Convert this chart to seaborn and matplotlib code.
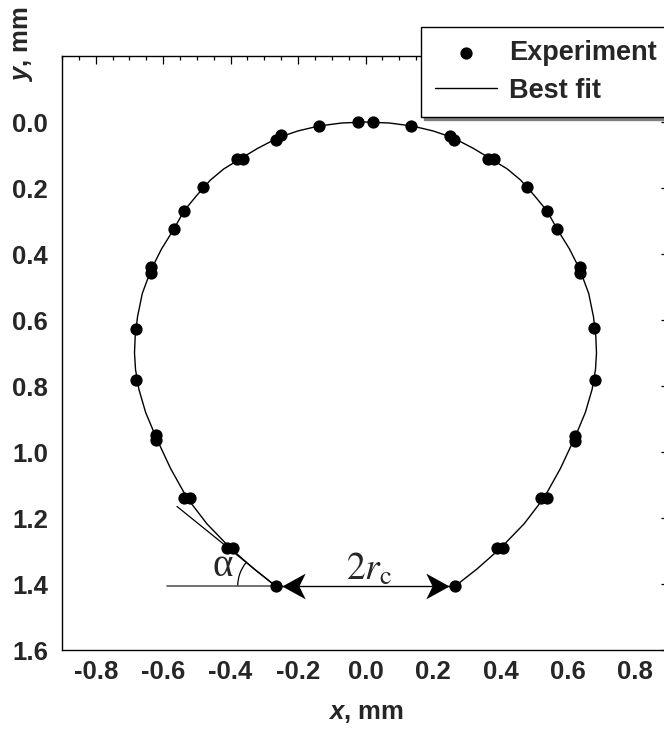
import numpy as np
import matplotlib
matplotlib.use("Agg")
import matplotlib.pyplot as plt
from matplotlib.patches import Arc
from matplotlib.path import Path
from matplotlib.ticker import MultipleLocator, FormatStrFormatter
import seaborn as sns

# ---------------- data ----------------
exp_x = [-0.023, 0.021, -0.138, -0.251, -0.266, -0.381, -0.363, -0.482, -0.538,
         -0.568, -0.636, -0.636, -0.681, -0.681, -0.621, -0.621, -0.538, -0.521,
         -0.411, -0.393, -0.266,
         0.135, 0.250, 0.262, 0.363, 0.381, 0.478, 0.538, 0.567, 0.636, 0.636,
         0.677, 0.680, 0.621, 0.621, 0.520, 0.538, 0.390, 0.407, 0.265]
exp_y = [0.000, 0.000, 0.012, 0.039, 0.054, 0.112, 0.112, 0.197, 0.269,
         0.324, 0.439, 0.457, 0.626, 0.781, 0.947, 0.965, 1.138, 1.138,
         1.292, 1.292, 1.407,
         0.012, 0.042, 0.054, 0.112, 0.112, 0.197, 0.269, 0.324, 0.439, 0.457,
         0.623, 0.781, 0.950, 0.968, 1.138, 1.138, 1.292, 1.292, 1.407]

fit_x = [-0.265, -0.330, -0.400, -0.470, -0.530, -0.578, -0.621, -0.652, -0.672,
         -0.682, -0.685, -0.683, -0.676, -0.662, -0.636, -0.605, -0.568, -0.538,
         -0.500, -0.460, -0.420, -0.372, -0.320, -0.258, -0.200, -0.138, -0.070,
         0.000,
         0.070, 0.138, 0.200, 0.258, 0.320, 0.372, 0.420, 0.460, 0.500, 0.538,
         0.568, 0.605, 0.636, 0.662, 0.676, 0.683, 0.685, 0.682, 0.672, 0.652,
         0.621, 0.578, 0.530, 0.470, 0.400, 0.330, 0.265]
fit_y = [1.407, 1.355, 1.292, 1.218, 1.138, 1.050, 0.956, 0.880, 0.810,
         0.750, 0.700, 0.650, 0.590, 0.520, 0.448, 0.385, 0.324, 0.269,
         0.222, 0.176, 0.142, 0.112, 0.080, 0.047, 0.027, 0.012, 0.003,
         0.000,
         0.003, 0.012, 0.027, 0.047, 0.080, 0.112, 0.142, 0.176, 0.222, 0.269,
         0.324, 0.385, 0.448, 0.520, 0.590, 0.650, 0.700, 0.750, 0.810, 0.880,
         0.956, 1.050, 1.138, 1.218, 1.292, 1.355, 1.407]

tangent_x = [-0.559, -0.266]
tangent_y = [1.165, 1.407]
base_x = [-0.589, -0.266]
base_y = [1.407, 1.407]
contact_x = [-0.266, 0.265]
contact_y = [1.407, 1.407]

x_ticks = [-0.8, -0.6, -0.4, -0.2, 0.0, 0.2, 0.4, 0.6, 0.8]
y_ticks = [0.0, 0.2, 0.4, 0.6, 0.8, 1.0, 1.2, 1.4, 1.6]

# ---------------- style ----------------
sns.set_theme(style="white")
plt.rcParams["font.family"] = ["Liberation Sans", "DejaVu Sans"]
plt.rcParams["axes.unicode_minus"] = False
plt.rcParams["mathtext.fontset"] = "custom"
plt.rcParams["mathtext.it"] = "Liberation Sans:italic:bold"
plt.rcParams["mathtext.rm"] = "Liberation Sans:bold"
plt.rcParams["mathtext.bf"] = "Liberation Sans:bold"

FS = 18.5
fig = plt.figure(figsize=(6.64, 7.29), dpi=100)
ax = fig.add_axes([62 / 664, (729 - 650) / 729, 607 / 664, 594 / 729])

sns.scatterplot(x=exp_x, y=exp_y, ax=ax, color="black", s=78, linewidth=0,
                label="Experiment", zorder=4)
sns.lineplot(x=fit_x, y=fit_y, ax=ax, sort=False, estimator=None, color="black",
             linewidth=1.0, label="Best fit", zorder=3)

# tangent, base line, double arrow, angle arc
ax.plot(tangent_x, tangent_y, color="black", lw=0.9, zorder=2)
ax.plot(base_x, base_y, color="0.35", lw=1.2, zorder=2)
ax.plot(contact_x, contact_y, color="black", lw=1.0, zorder=2)
dart_left = Path([(0.25, 0.0), (1.25, 0.55), (0.98, 0.0), (1.25, -0.55), (0.25, 0.0)],
                 [Path.MOVETO, Path.LINETO, Path.LINETO, Path.LINETO, Path.CLOSEPOLY])
dart_right = Path([(-0.25, 0.0), (-1.25, 0.55), (-0.98, 0.0), (-1.25, -0.55), (-0.25, 0.0)],
                  [Path.MOVETO, Path.LINETO, Path.LINETO, Path.LINETO, Path.CLOSEPOLY])
ax.plot(contact_x[:1], contact_y[:1], linestyle="none", marker=dart_left,
        markersize=42, color="black", markeredgewidth=0, zorder=5)
ax.plot(contact_x[1:], contact_y[1:], linestyle="none", marker=dart_right,
        markersize=42, color="black", markeredgewidth=0, zorder=5)
ax.add_patch(Arc((contact_x[0], contact_y[0]), 2 * 0.113, 2 * 0.115,
                 theta1=180, theta2=219, color="black", lw=0.9))
ax.text(-0.455, 1.377, "α", fontsize=28, family="Liberation Serif",
        ha="left", va="baseline")
ax.text(-0.057, 1.388, r"$2r_{\mathrm{c}}$", math_fontfamily="stix", fontsize=27,
        ha="left", va="baseline")

# axes
ax.set_xlim(-0.9, 0.9)
ax.set_ylim(1.6, -0.2)
ax.set_xticks(x_ticks)
ax.set_yticks(y_ticks)
ax.xaxis.set_minor_locator(MultipleLocator(0.05))
ax.yaxis.set_minor_locator(MultipleLocator(0.05))
ax.xaxis.set_major_formatter(FormatStrFormatter("%.1f"))
ax.yaxis.set_major_formatter(FormatStrFormatter("%.1f"))
ax.tick_params(which="both", direction="in", top=True, right=True,
               color="black", width=0.9)
ax.tick_params(which="major", length=5.5)
ax.tick_params(which="minor", length=3)
ax.tick_params(axis="y", which="major", pad=10, labelsize=FS)
ax.tick_params(axis="x", which="major", pad=7, labelsize=FS)
for lab in ax.get_xticklabels() + ax.get_yticklabels():
    lab.set_fontweight("bold")
for s in ax.spines.values():
    s.set_color("black")
    s.set_linewidth(1.0)

ax.set_xlabel(r"$x$, mm", fontsize=FS, fontweight="bold")
ax.set_ylabel(r"$y$, mm", fontsize=FS, fontweight="bold")
ax.xaxis.set_label_coords(0.5, -0.086)
ax.yaxis.set_label_coords(-0.044, 1.02)

handles, labels = ax.get_legend_handles_labels()
leg = ax.legend(handles, labels, loc="upper left",
                bbox_to_anchor=(421 / 664, (729 - 26.7) / 729),
                bbox_transform=fig.transFigure, borderaxespad=0,
                borderpad=0.5, handlelength=2.3, handletextpad=0.45,
                labelspacing=0.42, fancybox=False, framealpha=1,
                edgecolor="black", shadow={"color": "0.5", "alpha": 1},
                prop={"size": 19.5, "weight": "bold"})
leg.get_frame().set_linewidth(1.0)

fig.savefig("out.png", dpi=100)
